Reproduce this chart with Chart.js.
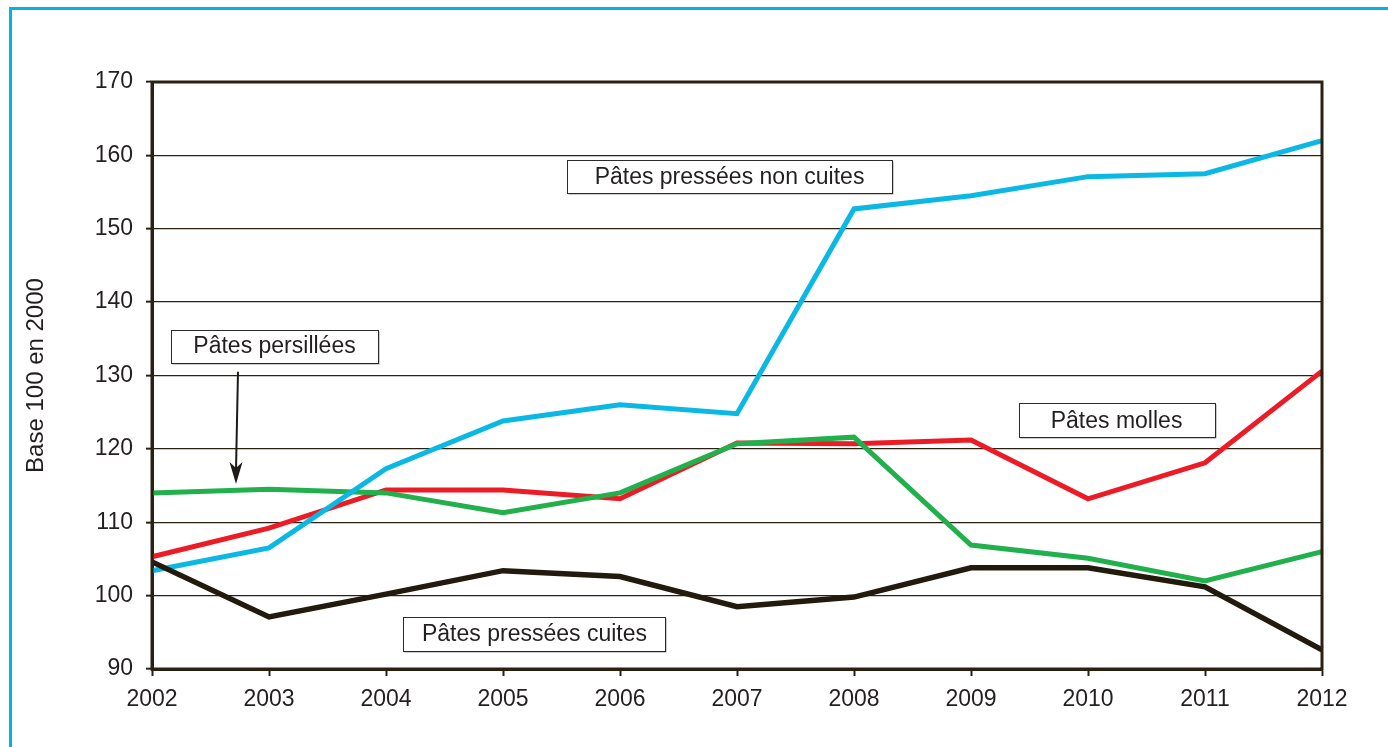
<!DOCTYPE html>
<html lang="fr">
  <head>
    <meta charset="UTF-8" />
    <title>Indices fromages 2002-2012</title>
    <script src="https://cdn.jsdelivr.net/npm/chart.js"></script>
    <style>
      html, body { margin: 0; padding: 0; background: #fff; overflow: hidden; }
      .frame {
        position: absolute; left: 9px; top: 7px; width: 3000px; height: 3000px;
        border: 3px solid #00b5e2; box-sizing: border-box;
      }
      #chart { position: absolute; left: 0; top: 0; }
    </style>
  </head>
  <body>
    <div class="frame"></div>
    <canvas id="chart" width="1388" height="747"></canvas>

    <script>
      const years = ["2002", "2003", "2004", "2005", "2006", "2007", "2008", "2009", "2010", "2011", "2012"];

      const presseesCuites = [104.6, 97.1, 100.2, 103.4, 102.6, 98.5, 99.8, 103.8, 103.8, 101.2, 92.6];
      const presseesNonCuites = [103.4, 106.5, 117.3, 123.8, 126.0, 124.8, 152.7, 154.5, 157.1, 157.5, 162.0];
      const persillees = [114.0, 114.5, 114.0, 111.3, 114.0, 120.7, 121.6, 106.9, 105.1, 102.0, 106.0];
      const molles = [105.3, 109.2, 114.4, 114.4, 113.2, 120.8, 120.7, 121.2, 113.2, 118.1, 130.6];

      const yTicks = [90, 100, 110, 120, 130, 140, 150, 160, 170];

      const ink = "#231f20";
      const axisColor = "#2a2112";
      const fontFamily = "'Liberation Sans', Arial, sans-serif";

      // text boxes, anchored in data units (x = category index, y = value)
      const labels = [
        { text: "Pâtes pressées non cuites", x: 4.936, y: 157.1, w: 325, h: 33 },
        { text: "Pâtes persillées", x: 1.047, y: 134.0, w: 207, h: 33 },
        { text: "Pâtes molles", x: 8.244, y: 123.9, w: 196, h: 34 },
        { text: "Pâtes pressées cuites", x: 3.269, y: 94.8, w: 262, h: 34 }
      ];
      const arrow = { x1: 0.735, y1: 130.5, x2: 0.718, y2: 115.2 };

      const overlay = {
        id: "overlay",
        afterDatasetsDraw(chart) {
          const { ctx, chartArea: a, scales: { x, y } } = chart;
          ctx.save();
          // plot frame
          ctx.strokeStyle = axisColor;
          ctx.lineWidth = 3;
          ctx.strokeRect(a.left, a.top, a.right - a.left, a.bottom - a.top);

          // arrow
          const ax1 = x.getPixelForValue(arrow.x1), ay1 = y.getPixelForValue(arrow.y1);
          const ax2 = x.getPixelForValue(arrow.x2), ay2 = y.getPixelForValue(arrow.y2);
          ctx.strokeStyle = "#1e1a1a";
          ctx.fillStyle = "#1e1a1a";
          ctx.lineWidth = 2;
          ctx.beginPath();
          ctx.moveTo(ax1, ay1);
          ctx.lineTo(ax2, ay2 - 14);
          ctx.stroke();
          ctx.beginPath();
          ctx.moveTo(ax2, ay2);
          ctx.lineTo(ax2 - 6.5, ay2 - 22);
          ctx.lineTo(ax2, ay2 - 16);
          ctx.lineTo(ax2 + 6.5, ay2 - 22);
          ctx.closePath();
          ctx.fill();

          // labels
          ctx.font = "23px " + fontFamily;
          ctx.textAlign = "center";
          ctx.textBaseline = "middle";
          labels.forEach((l) => {
            const cx = x.getPixelForValue(l.x);
            const cy = y.getPixelForValue(l.y);
            const left = Math.round(cx - l.w / 2) + 0.5;
            const top = Math.round(cy - l.h / 2) + 0.5;
            ctx.fillStyle = "#9a9a9a";
            ctx.fillRect(left + 1, top + 1, l.w, l.h);
            ctx.fillStyle = "#fff";
            ctx.fillRect(left, top, l.w, l.h);
            ctx.strokeStyle = "#2b2b2b";
            ctx.lineWidth = 1;
            ctx.strokeRect(left, top, l.w, l.h);
            ctx.fillStyle = ink;
            ctx.fillText(l.text, cx, cy + 1);
          });
          ctx.restore();
        }
      };

      function lineSet(label, data, color, width) {
        return {
          label: label,
          data: data,
          borderColor: color,
          backgroundColor: color,
          borderWidth: width,
          pointRadius: 0,
          tension: 0,
          fill: false,
          borderJoinStyle: "miter",
          borderCapStyle: "butt"
        };
      }

      new Chart(document.getElementById("chart"), {
        type: "line",
        data: {
          labels: years,
          datasets: [
            lineSet("Pâtes pressées cuites", presseesCuites, "#231a0e", 5.5),
            lineSet("Pâtes pressées non cuites", presseesNonCuites, "#0bb8e4", 5),
            lineSet("Pâtes persillées", persillees, "#22b04c", 5),
            lineSet("Pâtes molles", molles, "#ec1c27", 5)
          ]
        },
        options: {
          responsive: false,
          animation: false,
          layout: { padding: { left: 0, top: 82, right: 66, bottom: 0 } },
          plugins: {
            legend: { display: false },
            tooltip: { enabled: false }
          },
          scales: {
            x: {
              offset: false,
              afterFit: (s) => { s.height = 78; },
              grid: {
                drawOnChartArea: false,
                drawTicks: true,
                tickLength: 7,
                tickColor: axisColor,
                tickWidth: 2
              },
              border: { color: axisColor, width: 3 },
              ticks: {
                color: ink,
                padding: 10,
                maxRotation: 0,
                autoSkip: false,
                font: { family: fontFamily, size: 23 }
              }
            },
            y: {
              min: 90,
              max: 170,
              afterFit: (s) => { s.width = 152; },
              afterBuildTicks: (s) => { s.ticks = yTicks.map((v) => ({ value: v })); },
              grid: {
                color: axisColor,
                lineWidth: 1.3,
                drawTicks: true,
                tickLength: 6,
                tickColor: axisColor,
                tickWidth: 2
              },
              border: { color: axisColor, width: 3 },
              ticks: {
                color: ink,
                padding: 13,
                font: { family: fontFamily, size: 23 }
              },
              title: {
                display: true,
                text: "Base 100 en 2000",
                color: ink,
                padding: { top: 22, bottom: 0 },
                font: { family: fontFamily, size: 24 }
              }
            }
          }
        },
        plugins: [overlay]
      });
    </script>
  </body>
</html>
